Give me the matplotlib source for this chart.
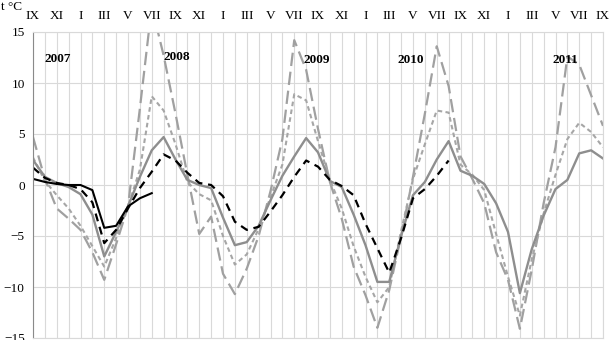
import matplotlib
matplotlib.use("Agg")
import matplotlib.pyplot as plt
import numpy as np

plt.rcParams["font.family"] = ["Liberation Serif", "DejaVu Serif"]

# months from IX 2007 to IX 2011
MONTH_LABELS = ["IX", "XI", "I", "III", "V", "VII"] * 4 + ["IX"]
YEARS = ["2007", "2008", "2009", "2010", "2011"]

black_solid = [0.6, 0.3, 0.1, 0.0, 0.0, -0.5, -4.2, -4.0, -2.1, -1.3, -0.8]

black_dashed = [1.7, 0.7, 0.2, 0.0, -0.4, -1.7, -5.7, -4.4, -2.3, -0.3,
                1.3, 3.0, 2.4, 1.2, 0.2, 0.0, -1.1, -3.6, -4.4, -4.1,
                -2.6, -1.0, 0.8, 2.4, 1.8, 0.5, -0.1, -1.0, -3.8, -6.2,
                -8.6, -5.2, -1.3, -0.4, 0.9, 2.4]

gray_solid = [2.45, 0.8, 0.2, -0.2, -0.9, -2.9, -7.0, -4.6, -2.1, 0.8,
              3.4, 4.7, 2.5, 0.5, 0.0, -0.3, -3.2, -5.9, -5.6, -4.0,
              -1.5, 0.9, 2.8, 4.6, 3.2, 0.4, -0.2, -2.9, -5.9, -9.5,
              -9.5, -5.0, -1.0, 0.3, 2.5, 4.3, 1.4, 0.9, 0.1, -1.8,
              -4.6, -10.6, -6.3, -3.0, -0.4, 0.5, 3.1, 3.4, 2.6]

gray_short = [2.7, 0.4, -1.0, -2.3, -4.0, -6.0, -8.0, -5.2, -2.1, 1.5,
              8.7, 7.3, 4.0, 0.3, -0.9, -1.5, -5.0, -7.8, -6.8, -4.3,
              -1.2, 2.0, 8.9, 8.3, 4.3, 0.5, -2.3, -6.0, -9.0, -11.5,
              -10.0, -4.5, 0.6, 4.0, 7.3, 7.1, 2.0, 1.0, -0.5, -4.8,
              -9.0, -12.8, -7.3, -2.8, 1.0, 4.5, 6.1, 5.2, 3.7]

gray_long = [4.7, 0.6, -2.3, -3.3, -4.4, -6.6, -9.3, -5.8, -2.1, 7.5,
             17.5, 12.7, 7.0, 1.0, -4.8, -3.1, -8.7, -10.7, -8.2, -5.0,
             -0.6, 4.5, 14.2, 11.3, 5.5, 0.3, -3.3, -8.0, -10.8, -14.0,
             -10.3, -5.0, 0.8, 7.0, 13.6, 9.7, 2.8, 0.6, -1.8, -6.6,
             -9.3, -14.1, -8.3, -1.8, 3.7, 12.6, 11.8, 8.8, 5.8]


def main():
    fig = plt.figure(figsize=(6.09, 3.40), dpi=100)
    ax = fig.add_axes([33 / 609, 2 / 340, 570 / 609, 306 / 340])

    x = np.arange(len(gray_solid))
    ax.plot(x, gray_long, color="#a0a0a0", lw=1.6, dashes=(6, 2.6))
    ax.plot(x, gray_short, color="#a6a6a6", lw=1.5, dashes=(2.2, 1.6))
    ax.plot(x, gray_solid, color="#8e8e8e", lw=1.7)
    ax.plot(np.arange(len(black_dashed)), black_dashed, color="black", lw=1.6, dashes=(3.6, 2.6))
    ax.plot(np.arange(len(black_solid)), black_solid, color="black", lw=1.5)

    ax.set_xlim(0, len(gray_solid) - 1)
    ax.set_ylim(-15, 15)
    ax.set_yticks(range(-15, 16, 5))
    ax.set_xticks(range(0, len(gray_solid), 2))
    ax.set_xticklabels(MONTH_LABELS)
    ax.set_xticks(range(len(gray_solid)), minor=True)
    ax.xaxis.tick_top()
    ax.tick_params(axis="both", which="both", length=0, labelsize=9.5)
    ax.tick_params(axis="x", pad=7)
    ax.tick_params(axis="y", pad=6)
    ax.grid(True, which="both", axis="x", color="#d9d9d9", lw=0.8)
    ax.grid(True, which="major", axis="y", color="#d9d9d9", lw=0.8)
    ax.set_axisbelow(True)
    for side, sp in ax.spines.items():
        sp.set_color("#d9d9d9")
        sp.set_linewidth(0.8)
    ax.spines["left"].set_color("#8a8a8a")

    year_xy = [(2.1, 12.4), (12.1, 12.5), (23.9, 12.3), (31.8, 12.3), (44.8, 12.3)]
    for label, (xx, yy) in zip(YEARS, year_xy):
        ax.text(xx, yy, label, ha="center", va="center", fontsize=9.5, fontweight="bold")

    fig.text(1 / 609, 1 - 7 / 340, "t °C", ha="left", va="center", fontsize=9.5)

    fig.savefig("out.png", dpi=100)
    plt.close(fig)
    return 0


if __name__ == "__main__":
    raise SystemExit(main())
